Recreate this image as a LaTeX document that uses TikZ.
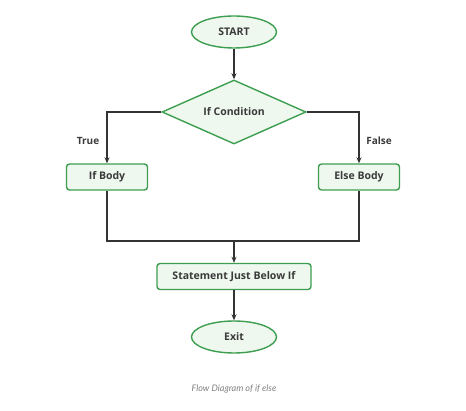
\documentclass[tikz,border=0pt]{standalone}
\usepackage{fontspec}
\setmainfont{Open Sans}
\newfontfamily\capfont{Lato}
\usetikzlibrary{shapes.geometric,arrows.meta}
\definecolor{gborder}{HTML}{3E9E4F}
\definecolor{gfill}{HTML}{EEF8EF}
\definecolor{lineclr}{HTML}{333333}
\definecolor{txtclr}{HTML}{3A3A3A}
\tikzset{
  base/.style={draw=gborder, fill=gfill, line width=1.4pt, text=txtclr, font=\fontsize{10.5}{12}\selectfont\bfseries, inner sep=0pt},
  term/.style={base, ellipse, minimum width=85pt, minimum height=32pt},
  procbox/.style={base, rectangle, rounded corners=3pt, minimum height=26pt},
  decis/.style={base, diamond, minimum width=144pt, minimum height=64pt, aspect=2.25},
  conn/.style={draw=lineclr, line width=1.7pt, -{Stealth[length=6pt,width=5pt]}},
  plain/.style={draw=lineclr, line width=1.7pt},
  lbl/.style={font=\fontsize{10}{12}\selectfont\bfseries, text=txtclr}
}
\begin{document}
\begin{tikzpicture}[x=1pt,y=-1pt]
\useasboundingbox[fill=white] (0,0) rectangle (466,411);
\node[term] (start) at (234,32) {START};
\node[decis] (cond) at (234,112) {If Condition};
\node[procbox, minimum width=81pt] (ifb) at (107,177) {If Body};
\node[procbox, minimum width=81pt] (elseb) at (359,177) {Else Body};
\node[procbox, minimum width=154pt] (stmt) at (234,276.5) {Statement Just Below If};
\node[term] (exit) at (234,337) {Exit};
\coordinate (lc) at (107,112);
\coordinate (rc) at (359,112);
\coordinate (lj) at (107,241);
\coordinate (rj) at (359,241);
\coordinate (mj) at (234,241);
\node[lbl] (truel) at (88,141) {True};
\node[lbl] (falsel) at (379,141) {False};
\node[font=\capfont\itshape\fontsize{9}{11}\selectfont, text=gray] (cap) at (234,389) {Flow Diagram of if else};
\draw[conn] (start) -- (cond);
\draw[conn] (cond.west) -- (lc) -- (ifb.north);
\draw[conn] (cond.east) -- (rc) -- (elseb.north);
\draw[plain] (ifb.south) -- (lj) -- (rj) -- (elseb.south);
\draw[conn] (mj) -- (stmt.north);
\draw[conn] (stmt) -- (exit);
\end{tikzpicture}
\end{document}
